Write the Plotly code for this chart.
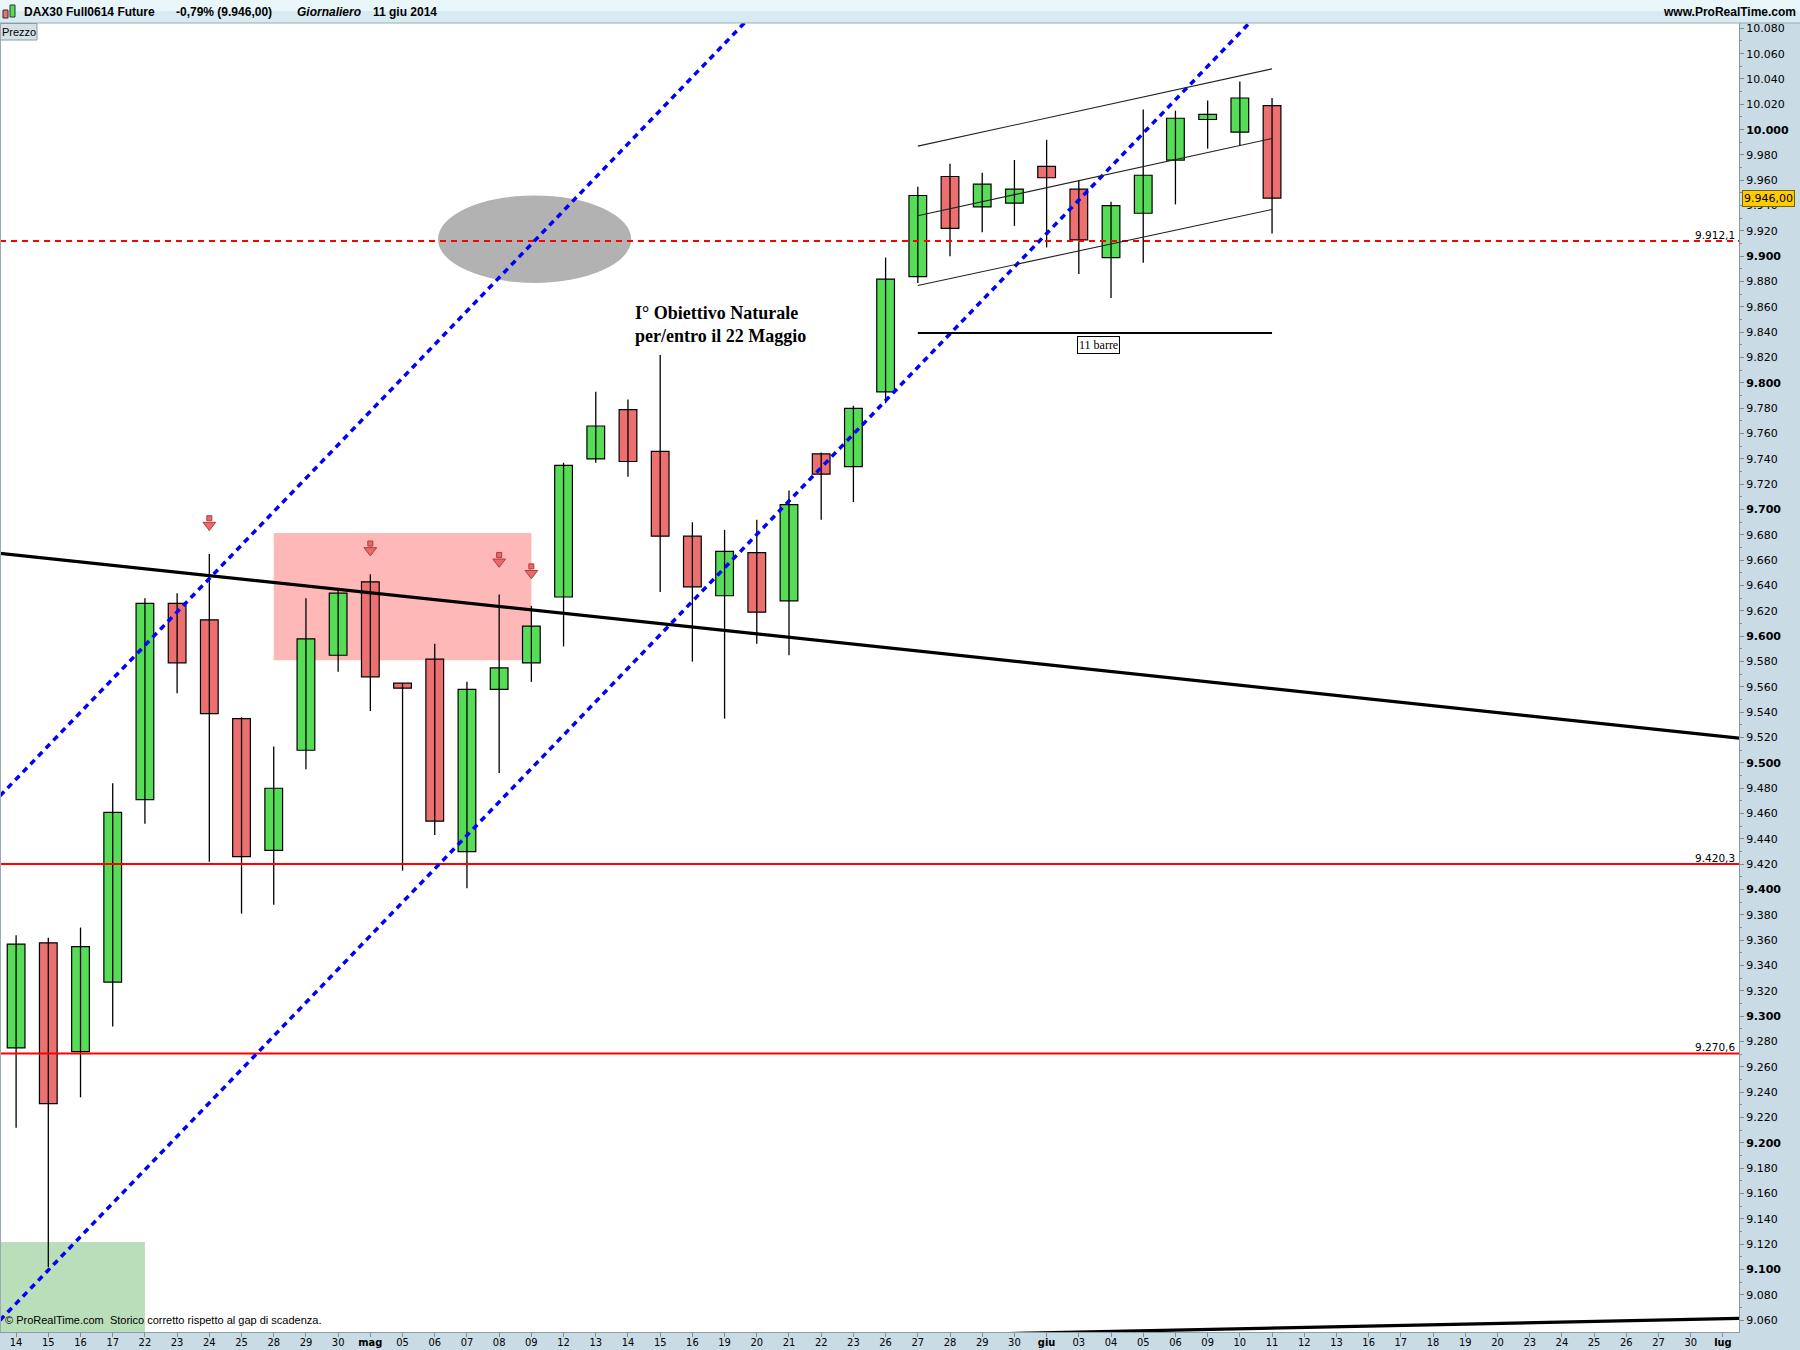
import plotly.graph_objects as go

# ---------------- data ----------------
dates = ["14", "15", "16", "17", "22", "23", "24", "25", "28", "29", "30", "mag",
         "05", "06", "07", "08", "09", "12", "13", "14", "15", "16", "19", "20", "21",
         "22", "23", "26", "27", "28", "29", "30", "giu", "03", "04", "05", "06", "09",
         "10", "11", "12", "13", "16", "17", "18", "19", "20", "23", "24", "25", "26",
         "27", "30", "lug"]
month_labels = ["mag", "giu", "lug"]

opens = [9275, 9358, 9272, 9327, 9471, 9626, 9613, 9535, 9431, 9510,
         9585, 9643, 9563, 9582, 9430, 9558, 9579, 9631, 9740, 9779,
         9746, 9679, 9632, 9666, 9628, 9744, 9734, 9793, 9884, 9963,
         9939, 9942, 9971, 9953, 9899, 9934, 9976, 10008, 9998, 10019]
highs = [9364, 9362, 9370, 9484, 9630, 9634, 9665, 9536, 9513, 9630,
         9638, 9649, 9563, 9594, 9564, 9633, 9624, 9737, 9793, 9787,
         9822, 9690, 9684, 9692, 9715, 9745, 9782, 9899, 9955, 9973,
         9966, 9976, 9992, 9960, 9943, 10016, 10015, 10023, 10038, 10025]
lows = [9212, 9102, 9236, 9292, 9452, 9555, 9422, 9381, 9388, 9495,
        9572, 9541, 9415, 9443, 9401, 9492, 9564, 9592, 9737, 9726,
        9635, 9580, 9535, 9594, 9585, 9692, 9706, 9784, 9879, 9900,
        9919, 9924, 9907, 9886, 9867, 9895, 9941, 9985, 9987, 9918]
closes = [9357, 9231, 9355, 9461, 9626, 9579, 9539, 9426, 9480, 9598,
          9634, 9568, 9559, 9454, 9558, 9575, 9608, 9735, 9766, 9738,
          9679, 9639, 9667, 9619, 9704, 9728, 9780, 9882, 9948, 9922,
          9957, 9953, 9962, 9913, 9940, 9964, 10009, 10012, 10025, 9946]

y_min, y_max = 9050.7, 10084.2
y_tick_values = list(range(9060, 10081, 20))

support_levels = [9420.3, 9270.6]
target_level = 9912.1

blue_upper_x = [-0.5, 53.5]
blue_upper_y = [9474.0, 10899.6]
blue_lower_x = [-0.5, 53.5]
blue_lower_y = [9060.0, 10485.6]
black_trend_x = [-0.5, 53.5]
black_trend_y = [9665.5, 9519.5]
bottom_trend_x = [30, 53.5]
bottom_trend_y = [9049.0, 9061.5]

channel_x = [28, 39]
channel_upper_y = [9987, 10048]
channel_mid_y = [9932, 9993]
channel_lower_y = [9877, 9937]
bars_count_y = 9839.5

arrow_idx = [6, 11, 15, 16]
arrow_y = [9690, 9670, 9661, 9652]

pink_zone_x = [8, 16]
pink_zone_y = [9581, 9681.5]
green_zone_x = [-0.5, 4]
green_zone_y = [y_min, 9121.7]
ellipse_x = [13.1, 19.1]
ellipse_y = [9879, 9948]

# ---------------- helpers ----------------
W, H = 1800, 1350
ML, MR, MT, MB = 0, 61, 23, 18
PW, PH = W - ML - MR, H - MT - MB


def px(x):
    return (x - ML) / PW


def py(y):
    return (H - MB - y) / PH


def it_fmt(v, dec):
    s = f"{v:,.{dec}f}"
    return s.replace(",", "X").replace(".", ",").replace("X", ".")


GREEN = "rgb(86,220,86)"
RED = "rgb(236,112,112)"

fig = go.Figure()

# wicks
wx, wy = [], []
for i in range(len(opens)):
    wx += [i, i, None]
    wy += [lows[i], highs[i], None]
fig.add_trace(go.Scatter(x=wx, y=wy, mode="lines",
                         line=dict(color="black", width=1.3), hoverinfo="skip"))

# bodies
inc = [i for i in range(len(opens)) if closes[i] >= opens[i]]
dec = [i for i in range(len(opens)) if closes[i] < opens[i]]
fig.add_trace(go.Bar(x=inc, y=[closes[i] - opens[i] for i in inc],
                     base=[opens[i] for i in inc], width=0.55,
                     marker=dict(color=GREEN, line=dict(color="black", width=1.2))))
fig.add_trace(go.Bar(x=dec, y=[opens[i] - closes[i] for i in dec],
                     base=[closes[i] for i in dec], width=0.55,
                     marker=dict(color=RED, line=dict(color="black", width=1.2))))

xr = [-0.5, 53.5]
# horizontal levels
for lv in support_levels:
    fig.add_trace(go.Scatter(x=xr, y=[lv, lv], mode="lines",
                             line=dict(color="#ff0000", width=2), hoverinfo="skip"))
fig.add_trace(go.Scatter(x=xr, y=[target_level, target_level], mode="lines",
                         line=dict(color="#ff0000", width=1.8, dash="6px,5px"), hoverinfo="skip"))

# trend lines
fig.add_trace(go.Scatter(x=black_trend_x, y=black_trend_y, mode="lines",
                         line=dict(color="black", width=3.2), hoverinfo="skip"))
fig.add_trace(go.Scatter(x=bottom_trend_x, y=bottom_trend_y, mode="lines",
                         line=dict(color="black", width=3.2), hoverinfo="skip"))
for bx, by in [(blue_upper_x, blue_upper_y), (blue_lower_x, blue_lower_y)]:
    fig.add_trace(go.Scatter(x=bx, y=by, mode="lines",
                             line=dict(color="#0000ff", width=3.5, dash="6px,5px"),
                             hoverinfo="skip"))
for cy in [channel_upper_y, channel_mid_y, channel_lower_y]:
    fig.add_trace(go.Scatter(x=channel_x, y=cy, mode="lines",
                             line=dict(color="#222222", width=1.1), hoverinfo="skip"))
fig.add_trace(go.Scatter(x=channel_x, y=[bars_count_y, bars_count_y], mode="lines",
                         line=dict(color="black", width=2), hoverinfo="skip"))

# down arrows: head + shaft
fig.add_trace(go.Scatter(x=arrow_idx, y=[v + 3.2 for v in arrow_y], mode="markers",
                         marker=dict(symbol="square", size=5, color="#e86a6a",
                                     line=dict(color="#b03a3a", width=1)), hoverinfo="skip"))
fig.add_trace(go.Scatter(x=arrow_idx, y=[v - 2.2 for v in arrow_y], mode="markers",
                         marker=dict(symbol="triangle-down", size=11, color="#e86a6a",
                                     line=dict(color="#b03a3a", width=1)), hoverinfo="skip"))

shapes = [
    dict(type="rect", xref="x", yref="y", x0=pink_zone_x[0], x1=pink_zone_x[1],
         y0=pink_zone_y[0], y1=pink_zone_y[1], fillcolor="rgb(255,184,184)",
         line=dict(width=0), layer="below"),
    dict(type="rect", xref="x", yref="y", x0=green_zone_x[0], x1=green_zone_x[1],
         y0=green_zone_y[0], y1=green_zone_y[1], fillcolor="rgb(186,222,186)",
         line=dict(width=0), layer="below"),
    dict(type="circle", xref="x", yref="y", x0=ellipse_x[0], x1=ellipse_x[1],
         y0=ellipse_y[0], y1=ellipse_y[1], fillcolor="rgb(178,178,178)",
         line=dict(width=0), layer="below"),
    # header bar
    dict(type="rect", xref="paper", yref="paper", x0=px(0), x1=px(W), y0=py(23), y1=py(11),
         fillcolor="#d8ebf3", line=dict(width=0), layer="above"),
    dict(type="rect", xref="paper", yref="paper", x0=px(0), x1=px(W), y0=py(11), y1=py(0),
         fillcolor="#e9f6fa", line=dict(width=0), layer="above"),
    dict(type="line", xref="paper", yref="paper", x0=px(0), x1=px(W), y0=py(23), y1=py(23),
         line=dict(color="#9aaab4", width=1), layer="above"),
    # header icon
    dict(type="rect", xref="paper", yref="paper", x0=px(3), x1=px(8), y0=py(18), y1=py(10),
         fillcolor="#ee7070", line=dict(color="#333", width=1), layer="above"),
    dict(type="rect", xref="paper", yref="paper", x0=px(10), x1=px(15), y0=py(17), y1=py(5),
         fillcolor="#55dd55", line=dict(color="#333", width=1), layer="above"),
    # Prezzo box
    dict(type="rect", xref="paper", yref="paper", x0=px(0.5), x1=px(37), y0=py(40), y1=py(23.5),
         fillcolor="#d6e0e7", line=dict(color="#8c9ca6", width=1), layer="above"),
    # left border
    dict(type="line", xref="paper", yref="paper", x0=px(0.5), x1=px(0.5), y0=0, y1=1,
         line=dict(color="#9aaab4", width=1), layer="above"),
]

HF = dict(family="Liberation Sans", size=12, color="black")
annotations = [
    dict(xref="paper", yref="paper", x=px(22), y=py(11.5), xanchor="left", yanchor="middle",
         text="<b>DAX30 Full0614 Future</b>", showarrow=False, font=HF),
    dict(xref="paper", yref="paper", x=px(174), y=py(11.5), xanchor="left", yanchor="middle",
         text="<b>-0,79% (" + it_fmt(closes[-1], 2) + ")</b>", showarrow=False, font=HF),
    dict(xref="paper", yref="paper", x=px(295), y=py(11.5), xanchor="left", yanchor="middle",
         text="<b><i>Giornaliero</i></b>", showarrow=False, font=HF),
    dict(xref="paper", yref="paper", x=px(371), y=py(11.5), xanchor="left", yanchor="middle",
         text="<b>11 giu 2014</b>", showarrow=False, font=HF),
    dict(xref="paper", yref="paper", x=px(1798), y=py(11.5), xanchor="right", yanchor="middle",
         text="<b>www.ProRealTime.com</b>", showarrow=False, font=HF),
    dict(xref="paper", yref="paper", x=px(18.5), y=py(32), xanchor="center", yanchor="middle",
         text="Prezzo", showarrow=False,
         font=dict(family="Liberation Sans", size=11, color="black")),
    dict(xref="paper", yref="paper", x=px(3), y=py(1320), xanchor="left", yanchor="middle",
         text="© ProRealTime.com  Storico corretto rispetto al gap di scadenza.", showarrow=False,
         font=dict(family="Liberation Sans", size=11, color="black")),
    dict(x=19.15, y=9846, xref="x", yref="y", xanchor="left", yanchor="middle", align="left",
         text="<b>I° Obiettivo Naturale<br>per/entro il 22 Maggio</b>", showarrow=False,
         font=dict(family="Liberation Serif", size=18, color="black")),
    dict(x=33.6, y=9830, xref="x", yref="y", xanchor="center", yanchor="middle",
         text="11 barre", showarrow=False, bgcolor="white", bordercolor="black",
         borderwidth=1, borderpad=1,
         font=dict(family="Liberation Serif", size=12, color="black")),
    dict(xref="paper", yref="y", x=px(1742), y=closes[-1], xanchor="left", yanchor="middle",
         text=it_fmt(closes[-1], 2), showarrow=False, bgcolor="#ffcc00",
         bordercolor="#7a6000", borderwidth=1, borderpad=1,
         font=dict(family="DejaVu Sans", size=11, color="black")),
]
for lv in support_levels + [target_level]:
    annotations.append(dict(x=53.45, y=lv, xref="x", yref="y", xanchor="right",
                            yanchor="bottom", text=it_fmt(lv, 1), showarrow=False,
                            yshift=-2,
                            font=dict(family="DejaVu Sans", size=10.5, color="black")))

y_tick_text = [("<b>" + it_fmt(v, 0) + "</b>") if v % 100 == 0 else it_fmt(v, 0)
               for v in y_tick_values]
x_tick_text = [("<b>" + d + "</b>") if d in month_labels else d for d in dates]

fig.update_layout(
    width=W, height=H,
    margin=dict(l=ML, r=MR, t=MT, b=MB, pad=0, autoexpand=False),
    paper_bgcolor="#c9dbe5",
    plot_bgcolor="white",
    showlegend=False,
    barmode="overlay",
    hovermode=False,
    shapes=shapes,
    annotations=annotations,
    xaxis=dict(range=[-0.5, 53.5], tickmode="array", tickvals=list(range(len(dates))),
               ticktext=x_tick_text, showgrid=False, zeroline=False, automargin=False,
               ticks="outside", ticklen=4, tickcolor="#7d8e99", ticklabelstandoff=-4,
               showline=True, linecolor="#8a9ba6", linewidth=1,
               tickfont=dict(family="DejaVu Sans Condensed, DejaVu Sans", size=11, color="black")),
    yaxis=dict(range=[y_min, y_max], side="right", tickmode="array", automargin=False,
               tickvals=y_tick_values, ticktext=y_tick_text, showgrid=False, zeroline=False,
               ticks="outside", ticklen=4, tickcolor="#7d8e99",
               showline=True, linecolor="#8a9ba6", linewidth=1,
               minor=dict(tickmode="linear", tick0=9050, dtick=10, ticks="outside",
                          ticklen=2, tickcolor="#7d8e99", showgrid=False),
               tickfont=dict(family="DejaVu Sans", size=11, color="black")),
)

fig.write_html("out.html",
               config={"displayModeBar": False},
               post_script="document.body.style.margin='0';"
                           "document.body.style.overflow='hidden';")
